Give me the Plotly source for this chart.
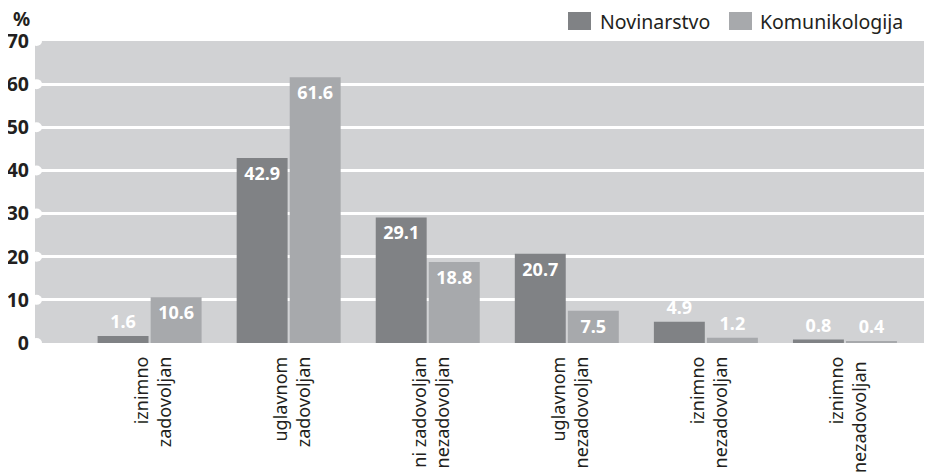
import plotly.graph_objects as go

categories = [
    "iznimno<br>zadovoljan",
    "uglavnom<br>zadovoljan",
    "ni zadovoljan<br>ni nezadovoljan",
    "uglavnom<br>nezadovoljan",
    "iznimno<br>nezadovoljan",
    "iznimno<br>nezadovoljan ",
]
novinarstvo = [1.6, 42.9, 29.1, 20.7, 4.9, 0.8]
komunikologija = [10.6, 61.6, 18.8, 7.5, 1.2, 0.4]
y_ticks = [0, 10, 20, 30, 40, 50, 60, 70]
series_names = ["Novinarstvo", "Komunikologija"]

FONT = "Noto Sans"
DARK = "#808285"
LIGHT = "#a7a9ac"
BG = "#d1d2d4"
TXT = "#231f20"

def positions(vals, threshold=6):
    return ["inside" if v >= threshold else "outside" for v in vals]

fig = go.Figure()
for name, vals, col in [(series_names[0], novinarstvo, DARK), (series_names[1], komunikologija, LIGHT)]:
    fig.add_trace(go.Bar(
        name=name, x=categories, y=vals,
        marker=dict(color=col, line=dict(width=0)),
        text=[f"{v:.1f}" for v in vals],
        textposition=positions(vals),
        insidetextanchor="end",
        textangle=0,
        constraintext="none",
        cliponaxis=False,
        showlegend=False,
        insidetextfont=dict(family=FONT, size=18, color="white", weight="bold"),
        outsidetextfont=dict(family=FONT, size=18, color="white", weight="bold"),
    ))

shapes = []
for t in y_ticks:
    shapes.append(dict(
        type="circle", xref="paper", yref="y",
        xsizemode="pixel", ysizemode="pixel",
        xanchor=0, yanchor=t,
        x0=-4, x1=7, y0=-5, y1=5,
        fillcolor="white", line=dict(width=0), layer="above",
    ))

# legend drawn as swatches + text
legend_swatch_x = [(533, 556), (694, 717)]
legend_text_x = [0.6277, 0.806]
annotations = []
for (x0, x1), tx, name, col in zip(legend_swatch_x, legend_text_x, series_names, [DARK, LIGHT]):
    shapes.append(dict(
        type="rect", xref="paper", yref="paper",
        xsizemode="pixel", ysizemode="pixel",
        xanchor=0, yanchor=1, x0=x0, x1=x1, y0=11, y1=29,
        fillcolor=col, line=dict(width=0),
    ))
    annotations.append(dict(
        text=name, xref="paper", yref="paper", x=tx, y=1.0,
        xanchor="left", yanchor="middle", yshift=20, showarrow=False,
        font=dict(family=FONT, size=19.5, color=TXT),
    ))

annotations.append(dict(
    text="<b>%</b>", xref="paper", yref="paper", x=-0.0156, y=1.0,
    xanchor="center", yanchor="middle", yshift=22, showarrow=False,
    font=dict(family=FONT, size=19, color=TXT),
))

fig.update_layout(
    width=924, height=465,
    margin=dict(l=27, r=0, t=33, b=130, autoexpand=False),
    paper_bgcolor="white",
    plot_bgcolor=BG,
    barmode="group",
    bargap=0.237,
    bargroupgap=0.04,
    font=dict(family=FONT, color=TXT),
    showlegend=False,
    shapes=shapes,
    annotations=annotations,
)

fig.update_xaxes(
    type="category", range=[-0.824, 5.626],
    showgrid=False, zeroline=False, showline=False, ticks="",
    tickangle=-90, ticklabelstandoff=9, ticklabelshift=4,
    tickfont=dict(family=FONT, size=18, color=TXT),
    automargin=False,
)
fig.update_yaxes(
    range=[0, 70], tickvals=y_ticks,
    showgrid=True, gridcolor="white", gridwidth=2.5,
    zeroline=False, showline=False, ticks="",
    ticklabelstandoff=5,
    tickfont=dict(family=FONT, size=19.5, color=TXT, weight="bold"),
    automargin=False,
)

fig.write_html("out.html")
